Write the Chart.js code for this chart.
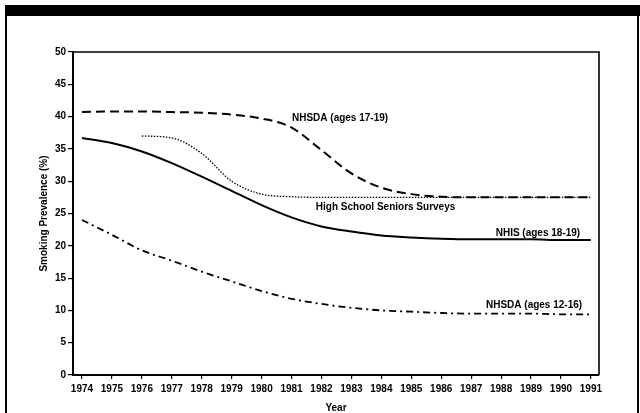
<!DOCTYPE html>
<html>
<head>
<meta charset="utf-8">
<script src="https://cdn.jsdelivr.net/npm/chart.js@4/dist/chart.umd.min.js"></script>
<style>
  html, body { margin: 0; padding: 0; background: #fff; }
  #wrap { position: relative; width: 640px; height: 413px; overflow: hidden; background: #fff; }
  #topbar { position: absolute; left: 5px; top: 5px; width: 635px; height: 11px; background: #000; }
  #leftline { position: absolute; left: 5px; top: 5px; width: 2px; height: 408px; background: #000; }
  #rightline { position: absolute; left: 637px; top: 5px; width: 2px; height: 408px; background: #000; }
  canvas { position: absolute; left: 0; top: 0; }
</style>
</head>
<body>
<div id="wrap">
  <canvas id="c" width="640" height="413"></canvas>
  <div id="topbar"></div>
  <div id="leftline"></div>
  <div id="rightline"></div>
</div>
<script>
// ---- data ----
const years = [1974,1975,1976,1977,1978,1979,1980,1981,1982,1983,1984,1985,1986,1987,1988,1989,1990,1991];
const nhsda1719 = [40.7,40.8,40.8,40.7,40.6,40.3,39.7,38.3,34.8,31.2,29.0,28.0,27.6,27.5,27.5,27.5,27.5,27.5];
const nhis1819  = [36.7,35.9,34.6,32.8,30.7,28.5,26.3,24.4,23.0,22.2,21.6,21.3,21.1,21.0,21.0,21.0,20.9,20.9];
const hsYears   = [1976,1977,1978,1979,1980,1981,1982,1983,1984,1985,1986,1987,1988,1989,1990,1991];
const hsSeniors = [37.0,36.7,34.3,30.0,28.0,27.6,27.5,27.5,27.5,27.5,27.5,27.5,27.5,27.5,27.5,27.5];
const nhsda1216 = [24.0,21.7,19.3,17.7,16.0,14.5,13.0,11.8,11.0,10.4,10.0,9.8,9.6,9.5,9.5,9.5,9.4,9.4];
const yTicks = [0,5,10,15,20,25,30,35,40,45,50];

const seriesLabels = [
  {text: 'NHSDA (ages 17-19)', x: 1982.62, y: 39.8},
  {text: 'High School Seniors Surveys', x: 1984.14, y: 26.0},
  {text: 'NHIS (ages 18-19)', x: 1989.23, y: 22.0},
  {text: 'NHSDA (ages 12-16)', x: 1989.1, y: 10.84}
];

const pts = (xs, ys) => xs.map((x, i) => ({x: x, y: ys[i]}));

const FONT = '"Liberation Sans", Arial, sans-serif';

const framePlugin = {
  id: 'frame',
  afterDatasetsDraw(chart) {
    const {ctx, chartArea: a, scales} = chart;
    ctx.save();
    ctx.strokeStyle = '#000';
    ctx.lineWidth = 1.6;
    ctx.beginPath();
    ctx.moveTo(a.left, a.top);
    ctx.lineTo(a.right, a.top);
    ctx.lineTo(a.right, a.bottom);
    ctx.stroke();
    ctx.fillStyle = '#000';
    ctx.font = 'bold 10px ' + FONT;
    ctx.textAlign = 'center';
    ctx.textBaseline = 'middle';
    seriesLabels.forEach(l => {
      ctx.fillText(l.text, scales.x.getPixelForValue(l.x), scales.y.getPixelForValue(l.y));
    });
    ctx.restore();
  }
};

new Chart(document.getElementById('c'), {
  type: 'line',
  data: {
    datasets: [
      {label: 'NHSDA (ages 17-19)', data: pts(years, nhsda1719), borderColor: '#000', borderWidth: 2, borderDash: [9,5], pointRadius: 0, cubicInterpolationMode: 'monotone', fill: false},
      {label: 'NHIS (ages 18-19)', data: pts(years, nhis1819), borderColor: '#000', borderWidth: 2, pointRadius: 0, cubicInterpolationMode: 'monotone', fill: false},
      {label: 'High School Seniors Surveys', data: pts(hsYears, hsSeniors), borderColor: '#000', borderWidth: 1.3, borderDash: [1.5,1.5], pointRadius: 0, cubicInterpolationMode: 'monotone', fill: false},
      {label: 'NHSDA (ages 12-16)', data: pts(years, nhsda1216), borderColor: '#000', borderWidth: 1.8, borderDash: [7,4,2,4], pointRadius: 0, cubicInterpolationMode: 'monotone', fill: false}
    ]
  },
  options: {
    responsive: false,
    animation: false,
    devicePixelRatio: 1,
    layout: {padding: {left: 0, right: 41, top: 52, bottom: 0}},
    plugins: {legend: {display: false}, tooltip: {enabled: false}},
    scales: {
      x: {
        type: 'linear',
        min: 1973.7,
        max: 1991.27,
        afterFit(s) { s.height = 38; },
        afterBuildTicks(s) { s.ticks = years.map(v => ({value: v})); },
        ticks: {color: '#000', font: {family: FONT, size: 10, weight: 'bold'}, padding: 4, maxRotation: 0, autoSkip: false, callback: v => String(v)},
        grid: {drawOnChartArea: false, drawTicks: true, tickLength: 4, color: '#000', lineWidth: 1.2},
        border: {display: true, color: '#000', width: 2},
        title: {display: true, text: 'Year', color: '#000', font: {family: FONT, size: 10, weight: 'bold', lineHeight: 1}, padding: 0}
      },
      y: {
        type: 'linear',
        min: 0,
        max: 50,
        afterFit(s) { s.width = 73; },
        afterBuildTicks(s) { s.ticks = yTicks.map(v => ({value: v})); },
        ticks: {color: '#000', font: {family: FONT, size: 10, weight: 'bold'}, padding: 2},
        grid: {drawOnChartArea: false, drawTicks: true, tickLength: 5, color: '#000', lineWidth: 1.2},
        border: {display: true, color: '#000', width: 2},
        title: {display: true, text: 'Smoking Prevalence (%)', color: '#000', font: {family: FONT, size: 10, weight: 'bold', lineHeight: 1.2}, padding: {top: 38, bottom: 0}}
      }
    }
  },
  plugins: [framePlugin]
});
</script>
</body>
</html>
